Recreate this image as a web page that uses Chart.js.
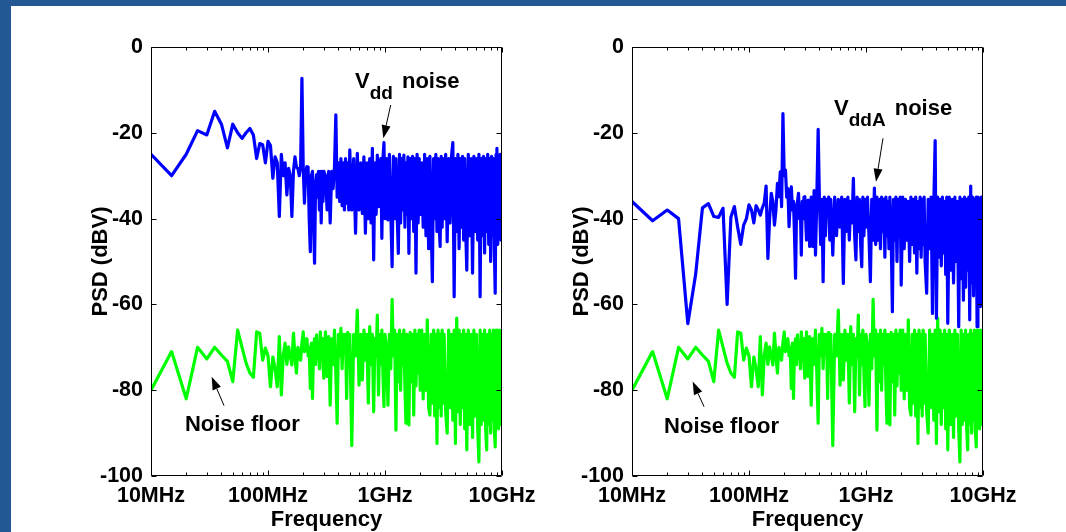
<!DOCTYPE html>
<html><head><meta charset="utf-8">
<script src="https://cdn.jsdelivr.net/npm/chart.js@4.4.0/dist/chart.umd.min.js"></script>
<style>
html,body{margin:0;padding:0;background:#245895;width:1066px;height:532px;overflow:hidden}
#panel{position:absolute;left:11px;top:6px;width:1055px;height:526px;background:#fff}
canvas{position:absolute;top:0}
#c1{left:0}
#c2{left:560px}
</style></head><body>
<div id="panel"></div>
<canvas id="c1" width="560" height="532"></canvas>
<canvas id="c2" width="506" height="532"></canvas>
<script>
// Frequency grid in MHz (shared by all series)
const freqMHz = [
 10,15,20,25,30,35,40,45,50,55,60,65,70,75,80,85,90,95,100,
 105,110,115,120,125,130,135,140,145,150,155,160,165,170,175,180,185,190,195,200,
 205,210,215,220,225,230,235,240,245,250,255,260,265,270,275,280,285,290,295,300,
 310,320,330,340,350,360,370,380,390,400,410,420,430,440,450,460,470,480,490,500,
 520,540,560,580,600,620,640,660,680,700,720,740,760,780,800,820,840,860,880,900,920,940,960,980,1000,
 1030,1060,1090,1120,1150,1180,1210,1240,1270,1300,1330,1360,1390,1420,1450,1480,1510,1540,1570,1600,
 1640,1680,1720,1760,1800,1840,1880,1920,1960,2000,
 2060,2120,2180,2240,2300,2360,2420,2480,2540,2600,2660,2720,2780,2840,2900,2960,3020,3080,3140,3200,
 3300,3400,3500,3600,3700,3800,3900,4000,4100,4200,4300,4400,4500,4600,4700,4800,4900,5000,
 5150,5300,5450,5600,5750,5900,6050,6200,6350,6500,6650,6800,6950,7100,7250,7400,7550,7700,7850,8000,
 8150,8300,8450,8600,8750,8900,9050,9200,9350,9500,9650,9800,9950,10000
];
// Left panel: Vdd noise (dBV)
const vddNoise = [
 -25,-30,-25,-19.5,-20.5,-15,-18,-23.5,-18,-20,-21.3,-20,-19,-20.5,-26,-22.5,-22.8,-27,-22,
 -23,-30.6,-25.6,-27,-39.5,-25,-30,-27,-34.5,-28.3,-30,-39.5,-29,-25.6,-28,-28.3,-30,-28,-7.3,-28,
 -36.4,-29,-27.9,-28,-40,-47.7,-30,-29,-40,-50.4,-32,-29.8,-35,-29,-38,-29,-41,-29,-36,-29,
 -30,-38,-29,-41,-29,-33,-28,-15.8,-35,-27,-36,-26,-37,-27,-38,-26,-36.4,-27,-38,-24,
 -38,-26,-43.4,-24.8,-38,-27,-38.8,-25.6,-43.4,-27,-40,-26,-41,-23.6,-49.6,-27,-39,-25.2,-37.2,-27,
 -26,-44.6,-26,-22.3,-40,
 -26,-40.3,-25,-38,-51.2,-25.5,-40,-26,-39,-48.1,-25,-41,-26,-38,-25.2,-42,-27,-39,-25.6,-48.1,
 -26,-40,-25.5,-43,-26,-52.7,-25,-41,-26,-39,
 -27,-42,-25,-44,-26,-47,-25.5,-41,-54.7,-26,-40,-25,-43,-26,-41,-46.5,-25.5,-42,-26,-40,
 -25,-45.4,-26,-41,-25.5,-22.3,-58.2,-26,-43,-25,-47,-26,-42,-25.5,-45,-26,-43,-52,
 -25,-44,-26,-52.7,-25.5,-43,-26,-45,-25,-58.2,-26,-44,-25.5,-48,-26,-43,-25,-46,-26,-50,
 -25.5,-44,-26,-47,-57.4,-25,-23.6,-46,-25.5,-44,-25,-45,-26,-34
];
// Right panel: VddA noise (dBV)
const vddaNoise = [
 -36,-40.5,-38,-40,-64.5,-53,-37.5,-36.5,-39.5,-39.7,-37.6,-60,-39.7,-37.2,-42,-46,-41.5,-40,-36.8,
 -38,-41,-37,-38,-39.2,-37.5,-36.4,-32.4,-49.3,-40,-34.1,-36,-41.5,-38,-31.8,-34.9,-29.1,-37.2,-15.5,-30,
 -28.7,-35,-33,-41.9,-36,-32.6,-38,-36,-44,-53.9,-37,-36,-34.1,-40,-38,-48.5,-36,-40,-35,-34.9,
 -45,-35.7,-46.5,-35,-46.5,-33.5,-48.5,-35,-19.2,-36,-46,-35.5,-54.7,-35,-44,-35.5,-38,-35,-45,-35.5,
 -48.5,-35,-44,-35.5,-42,-35,-55.1,-35.5,-43,-35,-45,-36,-41,-30.6,-44,-49.6,-35,-43,-35.5,-46,
 -51.2,-35,-44,-35.5,-42,
 -35,-44,-54.7,-35.5,-45,-32.9,-46,-35,-45,-35.5,-47,-35,-43,-35.5,-49,-35,-44,-36,-47,-35,
 -43,-61.7,-35.5,-45,-35,-50,-35.5,-44,-35,-55.5,
 -35,-47,-35.5,-45,-36,-50,-35,-46,-35.5,-48,-35,-52.7,-36,-47,-35,-49,-35.5,-46,-35,-50,
 -57.4,-35.5,-47,-35,-62.1,-36,-21.8,-63.2,-35,-49,-35.5,-51,-35,-48,-36,-53,-35,-64.4,
 -35,-52,-35.5,-55,-35,-50,-36,-65.2,-35,-54,-35.5,-59,-35,-56,-35.5,-52,-35,-63.6,-32.4,-55,
 -35,-58,-35.5,-53,-35,-65.2,-35,-54,-35.5,-60.5,-35,-56,-35,-38.4
];
// Noise floor (dBV), same in both panels
const noiseFloor = [
 -80,-71,-82,-70,-72.7,-70,-71.8,-73.3,-78,-66,-70,-73.7,-76,-77,-66.4,-66.7,-73,-70.2,-72,
 -79.2,-72.3,-75,-79.2,-67.5,-81.1,-72,-69,-74,-69.9,-72,-74.1,-66.7,-72,-76,-70,-71,-73,-69,-66.4,
 -71,-69.9,-68,-72,-70,-79.6,-69,-81.9,-70,-68,-74,-67.1,-72,-69,-75,-66.4,-72,-68,-74,-77.2,
 -66.4,-76.8,-67.5,-83.5,-68,-74,-66,-76,-87.7,-67,-72,-65.6,-75,-67,-70,-67,-81.9,-66.5,-74,-67,
 -92.9,-67,-72,-61.3,-78.8,-67,-77.6,-66,-73,-67,-83,-65.2,-74,-67,-85,-68,-72,-62.5,-81.1,-67,
 -74,-66,-76,-83.8,-67,
 -70,-83.5,-67,-75,-58.8,-72,-66,-89.3,-67,-78,-66,-80,-67,-74,-66,-79,-87.7,-67,-76,-88.1,
 -66.5,-78,-67,-85.8,-66,-79,-67,-76,-66,-80,
 -66,-82,-67,-80,-63.6,-84,-85.8,-67,-83,-66,-86,-67,-92.4,-66,-84,-67,-86,-66,-83,-67,
 -85,-90,-66,-84,-67,-87,-66,-92.4,-63.2,-85,-66,-88,-67,-84,-66,-89,-67,-93.9,
 -66,-88,-67,-91,-66,-86,-67,-89,-96.7,-66,-88,-67,-87,-66,-89,-93.9,-67,-88,-66,-90,
 -67,-87,-66,-89,-93.2,-66,-88,-67,-89,-66,-88,-67,-86,-71.4
];
const xTickValues = [1e7, 1e8, 1e9, 1e10];
const xTickLabels = ['10MHz', '100MHz', '1GHz', '10GHz'];
const yTickValues = [0, -20, -40, -60, -80, -100];

// Annotations: anchors in data units (MHz, dBV)
const leftLabel  = {at: [554, -9.56],  main: 'V', sub: 'dd',  tail: ' noise'};
const rightLabel = {at: [533, -15.85], main: 'V', sub: 'ddA', tail: ' noise'};
const leftArrows  = [[[1119, -13.52], [967, -21.28]], [[42.1, -83.6], [33.0, -76.85]]];
const rightArrows = [[[1397, -21.28], [1218, -31.4]], [[41.3, -83.85], [33.0, -78.0]]];
const leftFloorText  = [19.5, -89.4];
const rightFloorText = [18.8, -90.0];

const FONT = '"Liberation Sans", Arial, Helvetica, sans-serif';

const axesPlugin = {
  id: 'matlabAxes',
  afterDraw(chart) {
    const {ctx, chartArea: a, scales: {x, y}} = chart;
    ctx.save();
    ctx.strokeStyle = '#000';
    ctx.lineWidth = 1;
    const L = Math.round(a.left) + 0.5, R = Math.round(a.right) - 0.5;
    const T = Math.round(a.top) + 0.5, B = Math.round(a.bottom) - 0.5;
    ctx.beginPath();
    ctx.rect(L, T, R - L, B - T);
    const seg = (x1, y1, x2, y2) => { ctx.moveTo(x1, y1); ctx.lineTo(x2, y2); };
    y.ticks.forEach(t => {
      const py = Math.round(y.getPixelForValue(t.value)) + 0.5;
      seg(L, py, L + 5, py); seg(R, py, R - 5, py);
    });
    xTickValues.forEach((d, i) => {
      const px = Math.round(x.getPixelForValue(d)) + 0.5;
      seg(px, B, px, B - 5); seg(px, T, px, T + 5);
      if (i < xTickValues.length - 1) {
        for (let k = 2; k <= 9; k++) {
          const mx = Math.round(x.getPixelForValue(k * d)) + 0.5;
          seg(mx, B, mx, B - 3); seg(mx, T, mx, T + 3);
        }
      }
    });
    ctx.stroke();
    ctx.restore();
  }
};

function notesPlugin(label, arrows, floorText) {
  return {
    id: 'notes',
    afterDraw(chart) {
      const {ctx, scales: {x, y}} = chart;
      const P = p => [x.getPixelForValue(p[0] * 1e6), y.getPixelForValue(p[1])];
      ctx.save();
      ctx.fillStyle = '#000';
      ctx.strokeStyle = '#000';
      ctx.textBaseline = 'alphabetic';
      ctx.textAlign = 'left';
      let [tx, ty] = P(label.at);
      ctx.font = 'bold 22px ' + FONT;
      ctx.fillText(label.main, tx, ty);
      tx += ctx.measureText(label.main).width;
      ctx.font = 'bold 19px ' + FONT;
      ctx.fillText(label.sub, tx, ty + 11);
      tx += ctx.measureText(label.sub).width + 3;
      ctx.font = 'bold 22px ' + FONT;
      ctx.fillText(label.tail, tx, ty);
      const [fx, fy] = P(floorText);
      ctx.fillText('Noise floor', fx, fy);
      arrows.forEach(([from, to]) => {
        const [x1, y1] = P(from), [x2, y2] = P(to);
        const ang = Math.atan2(y2 - y1, x2 - x1);
        const hl = 13, hw = 4.5;
        const bx = x2 - hl * Math.cos(ang), by = y2 - hl * Math.sin(ang);
        ctx.lineWidth = 1;
        ctx.beginPath(); ctx.moveTo(x1, y1); ctx.lineTo(bx, by); ctx.stroke();
        ctx.beginPath();
        ctx.moveTo(x2, y2);
        ctx.lineTo(bx + hw * Math.sin(ang), by - hw * Math.cos(ang));
        ctx.lineTo(bx - hw * Math.sin(ang), by + hw * Math.cos(ang));
        ctx.closePath(); ctx.fill();
      });
      ctx.restore();
    }
  };
}

function makeChart(id, yWidth, rightPad, blueVals, yTitlePad, label, arrows, floorText) {
  const toPts = vals => freqMHz.map((f, i) => ({x: f * 1e6, y: vals[i]}));
  const lineStyle = {pointRadius: 0, borderWidth: 3.2, borderJoinStyle: 'round', borderCapStyle: 'round', tension: 0, fill: false};
  const tickFont = {family: FONT, size: 21.5, weight: 'bold'};
  return new Chart(document.getElementById(id), {
    type: 'line',
    data: {datasets: [
      Object.assign({data: toPts(blueVals), borderColor: '#0000ff'}, lineStyle),
      Object.assign({data: toPts(noiseFloor), borderColor: '#00ff00'}, lineStyle)
    ]},
    options: {
      responsive: false, animation: false, events: [],
      layout: {padding: {left: 0, top: 47, right: rightPad, bottom: 0}},
      plugins: {legend: {display: false}, tooltip: {enabled: false}},
      scales: {
        x: {
          type: 'logarithmic', min: 1e7, max: 1e10, position: 'bottom',
          afterBuildTicks: s => { s.ticks = xTickValues.map(v => ({value: v, major: true})); },
          afterFit: s => { s.height = 56; },
          grid: {display: false, drawTicks: false}, border: {display: false},
          ticks: {autoSkip: false, maxRotation: 0, minRotation: 0, padding: 7, color: '#000', font: tickFont,
                  callback: (v, i) => xTickLabels[i]},
          title: {display: true, text: 'Frequency', color: '#000',
                  font: {family: FONT, size: 22, weight: 'bold', lineHeight: 1}, padding: {top: 0, bottom: 0.7}}
        },
        y: {
          type: 'linear', min: -100, max: 0, position: 'left',
          afterBuildTicks: s => { s.ticks = yTickValues.map(v => ({value: v})); },
          afterFit: s => { s.width = yWidth; },
          grid: {display: false, drawTicks: false}, border: {display: false},
          ticks: {padding: 8, color: '#000', font: tickFont},
          title: {display: true, text: 'PSD (dBV)', color: '#000',
                  font: {family: FONT, size: 22, weight: 'bold'}, padding: {top: yTitlePad, bottom: 0}}
        }
      }
    },
    plugins: [axesPlugin, notesPlugin(label, arrows, floorText)]
  });
}

makeChart('c1', 151, 58, vddNoise, 87.8, leftLabel, leftArrows, leftFloorText);
makeChart('c2', 72, 83, vddaNoise, 8.8, rightLabel, rightArrows, rightFloorText);
</script>
</body></html>
